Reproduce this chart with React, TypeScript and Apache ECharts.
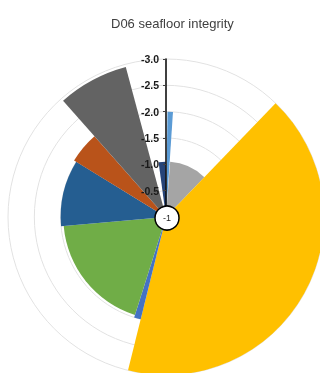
import React, { useEffect, useRef } from 'react';
import * as echarts from 'echarts';

// ---- data (angles in degrees clockwise from 12 o'clock, scores on the radial axis) ----
const TITLE = 'D06 seafloor integrity';
const sectorStart = [0.8, 4.3, 43.9, 193.9, 197.6, 265.0, 301.6, 318.5, 352.3];
const sectorEnd = [3.8, 43.9, 193.9, 197.6, 265.0, 301.6, 318.5, 345.0, 359.6];
const sectorScore = [-2.0, -1.05, -3.0, -2.0, -1.95, -2.0, -2.05, -2.95, -1.05];
const sectorColors = ['#5B9BD5', '#A5A5A5', '#FFC000', '#4472C4', '#70AD47', '#255E91', '#B9531A', '#636363', '#264478'];
const radiusMin = -3;
const radiusMax = 0;
const radiusStep = 0.5;
const centerLabel = '-1';

const CX = 166;
const CY = 217;
const R = 158;

export default function App() {
  const ref = useRef<HTMLDivElement>(null);
  useEffect(() => {
    if (!ref.current) return;
    const chart = echarts.init(ref.current, undefined, { renderer: 'svg' });
    const data = sectorStart.map((s, i) => [s, sectorEnd[i], sectorScore[i]]);
    const hiddenAngle = {
      type: 'value' as const,
      min: 0,
      max: 360,
      startAngle: 90,
      clockwise: true,
      axisLine: { show: false },
      axisTick: { show: false },
      axisLabel: { show: false },
      splitLine: { show: false },
    };
    chart.setOption({
      animation: false,
      title: {
        text: TITLE,
        left: 106,
        top: 12,
        textStyle: { fontSize: 13, fontWeight: 'normal', color: '#404040', fontFamily: 'Liberation Sans' },
      },
      polar: [
        { center: [CX, CY], radius: R },
        { center: [CX, CY], radius: R },
      ],
      angleAxis: [
        { ...hiddenAngle, polarIndex: 0 },
        { ...hiddenAngle, polarIndex: 1 },
      ],
      radiusAxis: [
        {
          polarIndex: 0,
          type: 'value',
          min: radiusMin,
          max: radiusMax,
          interval: radiusStep,
          inverse: true,
          axisLine: { show: false },
          axisTick: { show: false },
          axisLabel: { show: false },
          splitLine: { show: true, lineStyle: { color: '#e2e2e2', width: 1 } },
        },
        {
          polarIndex: 1,
          type: 'value',
          min: radiusMin,
          max: radiusMax,
          interval: radiusStep,
          inverse: true,
          z: 10,
          axisLine: { show: true, lineStyle: { color: '#000', width: 1.5 } },
          axisTick: { show: true, length: 3, lineStyle: { color: '#404040', width: 1 } },
          axisLabel: {
            show: true,
            fontSize: 10.5,
            fontWeight: 'bold',
            color: '#1a1a1a',
            fontFamily: 'Liberation Sans',
            margin: 7,
            formatter: (v: number) => (v === 0 ? '' : v.toFixed(1)),
          },
          splitLine: { show: false },
        },
      ],
      series: [
        {
          type: 'custom',
          coordinateSystem: 'polar',
          polarIndex: 0,
          data,
          encode: { angle: [0, 1], radius: 2 },
          renderItem: (params: any, api: any) => {
            const s = api.value(0);
            const e = api.value(1);
            const v = api.value(2);
            const c = api.coord([0, s]);
            const p1 = api.coord([v, s]);
            const p2 = api.coord([v, e]);
            const r = Math.hypot(p1[0] - c[0], p1[1] - c[1]);
            const a1 = Math.atan2(p1[1] - c[1], p1[0] - c[0]);
            let a2 = Math.atan2(p2[1] - c[1], p2[0] - c[0]);
            while (a2 <= a1) a2 += Math.PI * 2;
            return {
              type: 'sector',
              shape: { cx: c[0], cy: c[1], r0: 0, r, startAngle: a1, endAngle: a2, clockwise: true },
              style: { fill: sectorColors[params.dataIndex] },
            };
          },
        },
      ],
      graphic: [
        {
          type: 'circle',
          z: 100,
          shape: { cx: CX + 1, cy: CY + 1, r: 12 },
          style: { fill: '#fff', stroke: '#000', lineWidth: 1.5 },
        },
        {
          type: 'text',
          z: 101,
          x: CX + 1,
          y: CY + 1,
          style: {
            text: centerLabel,
            fontSize: 9,
            fontFamily: 'Liberation Sans',
            fill: '#222',
            align: 'center',
            verticalAlign: 'middle',
            textAlign: 'center',
            textVerticalAlign: 'middle',
          },
        },
      ],
    });
    return () => chart.dispose();
  }, []);
  return <div ref={ref} style={{ position: 'fixed', left: 0, top: 0, width: 320, height: 373 }} />;
}
